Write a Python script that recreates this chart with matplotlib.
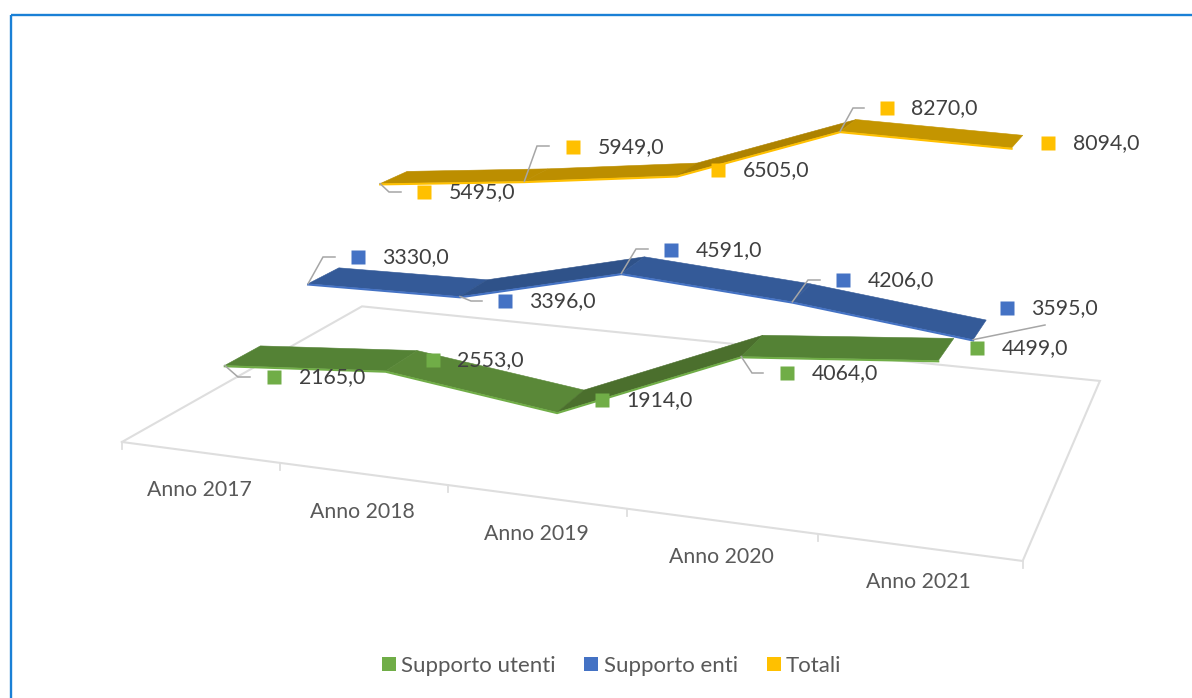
import numpy as np
import matplotlib
matplotlib.use('Agg')
import matplotlib.pyplot as plt
from matplotlib.patches import Polygon, Patch, Rectangle

# ---- data ----
categories = ['Anno 2017', 'Anno 2018', 'Anno 2019', 'Anno 2020', 'Anno 2021']
supporto_utenti = [2165, 2553, 1914, 4064, 4499]
supporto_enti = [3330, 3396, 4591, 4206, 3595]
totali = [5495, 5949, 6505, 8270, 8094]
series_names = ['Supporto utenti', 'Supporto enti', 'Totali']

# ---- style ----
edge_colors = ['#70AD47', '#4472C4', '#FFC000']
face_colors = [['#548235', '#5A8838', '#4B6F2D', '#548235'],
               ['#345A98', '#2F5289', '#345A98', '#345A98'],
               ['#BC8E00', '#BC8E00', '#AD8200', '#C49500']]
FLOOR = '#DEDEDE'
LEADER = '#A6A6A6'
FS = 15.3
FS_LEG = 16.0

# projection of (category axis, depth axis, value/1000) onto the picture
CAMERA = np.array([[149.7100172, 325.6775417, -1.9084679, 121.9021809],
                   [7.0973144, -63.218397, -33.9678465, 441.9911686],
                   [-0.0297666, 0.2363333, -0.0036189, 1.0]])
RIBBON = 0.135


def project(x, d, v):
    x, d, v = np.asarray(x, float), np.broadcast_to(d, np.shape(x)), np.asarray(v, float)
    h = CAMERA @ np.vstack([x, d, v / 1000.0, np.ones_like(x)])
    return h[0] / h[2], h[1] / h[2]


fig = plt.figure(figsize=(11.92, 6.98), dpi=100, facecolor='white')
ax = fig.add_axes([0, 0, 1, 1])
ax.set_xlim(0, 1192)
ax.set_ylim(698, 0)
ax.axis('off')
plt.rcParams['font.family'] = ['Lato', 'DejaVu Sans']

# outer frame (runs off the right and bottom of the picture)
ax.add_patch(Rectangle((10.5, 14.5), 1400, 900, fill=False, ec='#1A80D6', lw=1.7, zorder=1))

# floor
n = len(categories)
fx, fy = project([0, n, n, 0, 0], [0, 0, 1, 1, 0], [0] * 5)
ax.plot(fx, fy, color=FLOOR, lw=1.5, zorder=2, solid_joinstyle='miter')
tx, ty = project(np.arange(n + 1), 0, np.zeros(n + 1))
for a, b in zip(tx, ty):
    ax.plot([a, a], [b, b + 7], color=FLOOR, lw=1.3, zorder=2)

# category labels
label_drop = [38, 38, 37, 36, 35]
cx, cy = project(np.arange(n) + 0.5, 0, np.zeros(n))
for i, c in enumerate(categories):
    ax.text(cx[i], cy[i] + label_drop[i], c, ha='center', va='center', color='#595959', fontsize=FS, zorder=6)

# ribbons
all_series = [supporto_utenti, supporto_enti, totali]
xs = np.arange(n) + 0.5
for k in [2, 1, 0]:
    vals = all_series[k]
    c = (k + 0.5) / 3
    ux0, uy0 = project(xs, c - RIBBON / 2, vals)
    ux1, uy1 = project(xs, c + RIBBON / 2, vals)
    for i in range(n - 1):
        pts = [(ux0[i], uy0[i]), (ux0[i + 1], uy0[i + 1]), (ux1[i + 1], uy1[i + 1]), (ux1[i], uy1[i])]
        ax.add_patch(Polygon(pts, closed=True, fc=face_colors[k][i], ec=face_colors[k][i], lw=0.4, zorder=3 + (2 - k) * 0.1))
    ax.plot(ux0, uy0 + 0.8, color=edge_colors[k], lw=1.5, zorder=3.05 + (2 - k) * 0.1, solid_joinstyle='miter')

# data labels: marker centre, text start
label_xy = [[(274, 377), (433, 360), (602, 400), (787, 373), (977, 348)],
            [(358, 257), (505, 301), (671, 250), (843, 280), (1007, 308)],
            [(424, 192), (573, 147), (718, 170), (887, 108), (1048, 143)]]
label_gap = 24.5
# leader elbows and ends (None: no leader line shown)
leaders = [[((238, 377), (250, 377)), None, None, ((752, 373), (763, 373)), None],
           [((323, 257), (335, 257)), ((471, 301), (482, 301)), ((636, 249), (648, 249)), ((808, 280), (820, 280)), ((1045, 325), (1045, 325))],
           [((389, 192), (401, 192)), ((537, 146), (549, 146)), None, ((853, 108), (864, 108)), None]]

for k in range(3):
    vals = all_series[k]
    ux, uy = project(xs, (k + 0.5) / 3 - RIBBON / 2, vals)
    for i in range(n):
        px, py = label_xy[k][i]
        if leaders[k][i] is not None:
            (ex, ey), (ox, oy) = leaders[k][i]
            ax.plot([ux[i], ex, ox], [uy[i], ey, oy], color=LEADER, lw=1.1, zorder=5, solid_joinstyle='miter')
        ax.plot([px], [py], marker='s', ms=10.08, mec='none', color=edge_colors[k], zorder=7, ls='none')
        ax.text(px + label_gap, py + 0.5, f"{vals[i]:.1f}".replace('.', ','), ha='left', va='center', color='#404040', fontsize=FS, zorder=7)

# legend
handles = [Patch(fc=edge_colors[k], ec='none', label=series_names[k]) for k in range(3)]
leg = ax.legend(handles=handles, loc='center', bbox_to_anchor=(611.5, 666), bbox_transform=ax.transData, ncol=3,
                frameon=False, fontsize=FS_LEG, handlelength=0.63, handleheight=0.63, handletextpad=0.23,
                columnspacing=1.3, borderpad=0, borderaxespad=0, labelcolor='#595959')

fig.savefig('out.png', dpi=100, facecolor='white')
